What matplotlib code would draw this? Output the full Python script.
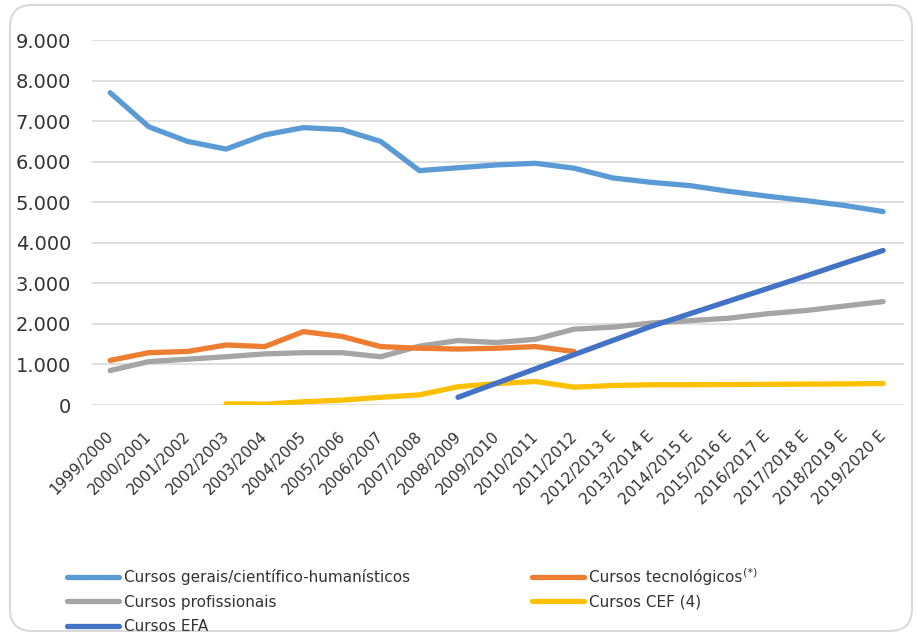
import matplotlib
matplotlib.use("Agg")
import matplotlib.pyplot as plt
import matplotlib.transforms as mtransforms
from matplotlib.patches import FancyBboxPatch
import numpy as np

anos = ["1999/2000", "2000/2001", "2001/2002", "2002/2003", "2003/2004",
        "2004/2005", "2005/2006", "2006/2007", "2007/2008", "2008/2009",
        "2009/2010", "2010/2011", "2011/2012", "2012/2013 E", "2013/2014 E",
        "2014/2015 E", "2015/2016 E", "2016/2017 E", "2017/2018 E",
        "2018/2019 E", "2019/2020 E"]

# values (None = no data)
gerais = [7700, 6860, 6500, 6310, 6660, 6840, 6790, 6500, 5780, 5850, 5920,
          5960, 5840, 5600, 5490, 5410, 5270, 5150, 5040, 4920, 4770]
tecnologicos = [1100, 1290, 1320, 1480, 1440, 1810, 1690, 1440, 1400, 1380,
                1400, 1440, 1320, None, None, None, None, None, None, None, None]
profissionais = [850, 1070, 1130, 1190, 1260, 1290, 1290, 1190, 1450, 1590,
                 1540, 1620, 1870, 1920, 2020, 2080, 2140, 2250, 2330, 2440, 2550]
cef = [None, None, None, 30, 20, 80, 120, 190, 250, 450, 530, 580, 440, 480,
       500, 500, 505, 510, 515, 520, 530]
efa = [None, None, None, None, None, None, None, None, None, 190, 540, 890,
       1240, 1590, 1940, 2250, 2560, 2870, 3180, 3500, 3810]

series = [
    ("Cursos gerais/científico-humanísticos", gerais, "#5B9BD5"),
    ("Cursos profissionais", profissionais, "#A5A5A5"),
    ("Cursos EFA", efa, "#4472C4"),
    ("Cursos tecnológicos", tecnologicos, "#ED7D31"),
    ("Cursos CEF (4)", cef, "#FFC000"),
]
draw_order = [1, 3, 4, 0, 2]

fig = plt.figure(figsize=(9.17, 6.37), dpi=100)
ax = fig.add_axes([0.1003, 0.3642, 0.8855, 0.573])

x = np.arange(len(anos))
handles = {}
for i in draw_order:
    name, vals, col = series[i]
    y = np.array([np.nan if v is None else v for v in vals], dtype=float)
    line, = ax.plot(x, y, color=col, lw=3.8, solid_capstyle="round",
                    solid_joinstyle="round", label=name, zorder=3)
    handles[i] = line

ax.set_xlim(-0.47, len(anos) - 1 + 0.54)
ax.set_ylim(0, 9000)
ax.set_yticks(np.arange(0, 9001, 1000))
ax.set_yticklabels([f"{v:,}".replace(",", ".") for v in range(0, 9001, 1000)])
ax.yaxis.grid(True, color="#D9D9D9", lw=1.2)
ax.set_axisbelow(True)
for s in ax.spines.values():
    s.set_visible(False)

ax.set_xticks(x)
ax.set_xticklabels(anos, rotation=45, ha="right", va="top")
ax.tick_params(axis="x", length=0, pad=17, labelsize=11, labelcolor="#333333")
ax.tick_params(axis="y", length=0, pad=15, labelsize=14, labelcolor="#333333")
offset = mtransforms.ScaledTranslation(6 / 100, 0, fig.dpi_scale_trans)
for lab in ax.get_xticklabels():
    lab.set_transform(lab.get_transform() + offset)

leg = fig.legend([handles[i] for i in range(5)], [series[i][0] for i in range(5)],
                 ncol=2, loc="upper left", bbox_to_anchor=(0.0735, 0.1065),
                 frameon=False, fontsize=11, handlelength=3.4, handletextpad=0.3,
                 labelspacing=0.62, columnspacing=8.0, borderaxespad=0,
                 borderpad=0)
for t in leg.get_texts():
    t.set_color("#333333")

# superscript "(*)" after "Cursos tecnológicos"
fig.canvas.draw()
tb = leg.get_texts()[3].get_window_extent()
fig.text(tb.x1 + 1, tb.y1 + 2, "(*)", transform=None, fontsize=8,
         color="#333333", ha="left", va="top")

border = FancyBboxPatch((10, 6), 902, 626, boxstyle="round,pad=0,rounding_size=22",
                        transform=None, fill=False, edgecolor="#D9D9D9", lw=1.5)
fig.patches.append(border)

fig.savefig("out.png", dpi=100)
